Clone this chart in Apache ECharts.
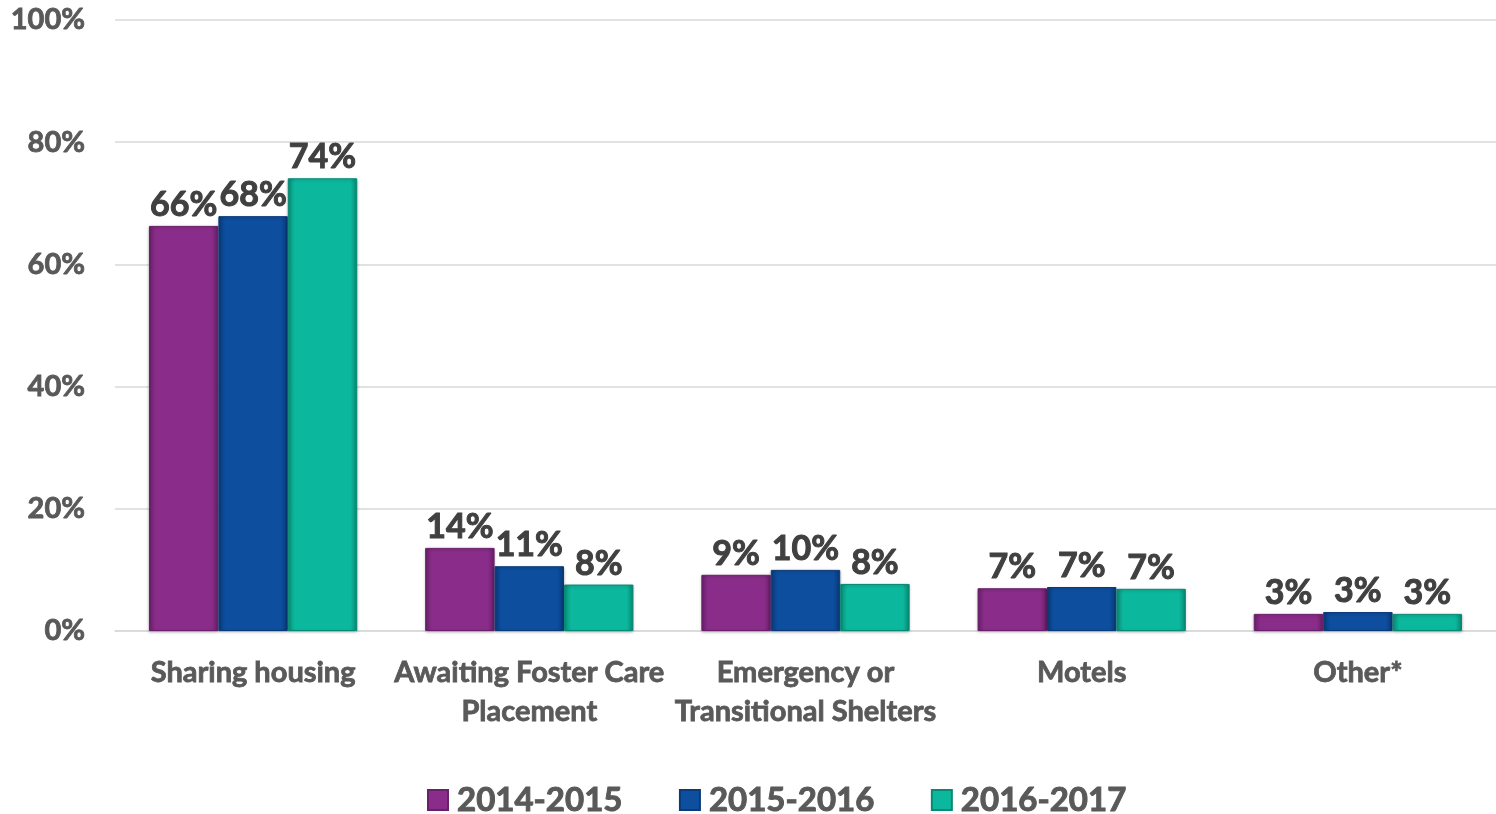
<!DOCTYPE html>
<html>
<head>
<meta charset="utf-8">
<script src="https://cdn.jsdelivr.net/npm/echarts@6/dist/echarts.min.js"></script>
<style>html,body{margin:0;padding:0;background:#fff}</style>
</head>
<body>
<div id="chart" style="width:1496px;height:814px;"></div>
<script>
var categories = ['Sharing housing', 'Awaiting Foster Care\nPlacement', 'Emergency or\nTransitional Shelters', 'Motels', 'Other*'];
var years = ['2014-2015', '2015-2016', '2016-2017'];
var v2014 = [66.3, 13.6, 9.2, 7.0, 2.8];
var v2015 = [67.9, 10.6, 10.0, 7.2, 3.1];
var v2016 = [74.1, 7.6, 7.7, 6.9, 2.8];
var yTicks = [0, 20, 40, 60, 80, 100];

function grad(light, mid, dark) {
  return new echarts.graphic.LinearGradient(0, 0, 1, 0, [
    {offset: 0, color: dark},
    {offset: 0.1, color: mid},
    {offset: 0.9, color: mid},
    {offset: 1, color: dark}
  ]);
}
var colors = [
  ['#c25ac2', '#8a2d8a', '#6a1f6a'],
  ['#3a7fd6', '#0d4e9f', '#0a3a78'],
  ['#3fe0c8', '#0cb89d', '#078a75']
];
var allData = [v2014, v2015, v2016];
var FONT = 'Lato';

var series = years.map(function (y, i) {
  return {
    name: y,
    type: 'bar',
    barGap: '0%',
    barCategoryGap: '24.6%',
    data: allData[i],
    itemStyle: {
      color: grad(colors[i][0], colors[i][1], colors[i][2]),
      borderColor: colors[i][2],
      borderWidth: 1,
      shadowColor: 'rgba(0,0,0,0.25)',
      shadowBlur: 3,
      shadowOffsetY: 1
    },
    label: {
      show: true,
      position: 'top',
      distance: 4,
      formatter: function (p) { return Math.round(p.value) + '%'; },
      fontFamily: FONT,
      fontWeight: 'bold',
      fontSize: 34,
      color: '#404040',
      textBorderColor: '#404040',
      textBorderWidth: 1
    }
  };
});

var chart = echarts.init(document.getElementById('chart'));
chart.setOption({
  animation: false,
  color: colors.map(function (c) { return c[1]; }),
  grid: {left: 115, right: 0, top: 20, bottom: 183, containLabel: false},
  legend: {
    data: years,
    top: 778,
    left: 422,
    itemWidth: 20,
    itemHeight: 20,
    itemGap: 56,
    icon: 'rect',
    textStyle: {
      fontFamily: FONT, fontWeight: 'bold', fontSize: 33, color: '#595959',
      textBorderColor: '#595959', textBorderWidth: 1, padding: [0, 0, 0, 4]
    }
  },
  xAxis: {
    type: 'category',
    data: categories,
    axisLine: {lineStyle: {color: '#d9d9d9', width: 1.5}},
    axisTick: {show: false},
    axisLabel: {
      fontFamily: FONT, fontWeight: 'bold', fontSize: 29, color: '#595959',
      textBorderColor: '#595959', textBorderWidth: 0.8,
      lineHeight: 39, margin: 22, interval: 0
    }
  },
  yAxis: {
    type: 'value',
    min: 0,
    max: 100,
    interval: 20,
    axisLine: {show: false},
    axisTick: {show: false},
    splitLine: {lineStyle: {color: '#d9d9d9', width: 1.5}},
    axisLabel: {
      fontFamily: FONT, fontWeight: 'bold', fontSize: 29, color: '#595959',
      textBorderColor: '#595959', textBorderWidth: 0.8,
      margin: 30,
      formatter: function (v) { return yTicks.indexOf(v) >= 0 ? v + '%' : ''; }
    }
  },
  series: series
});
</script>
</body>
</html>
